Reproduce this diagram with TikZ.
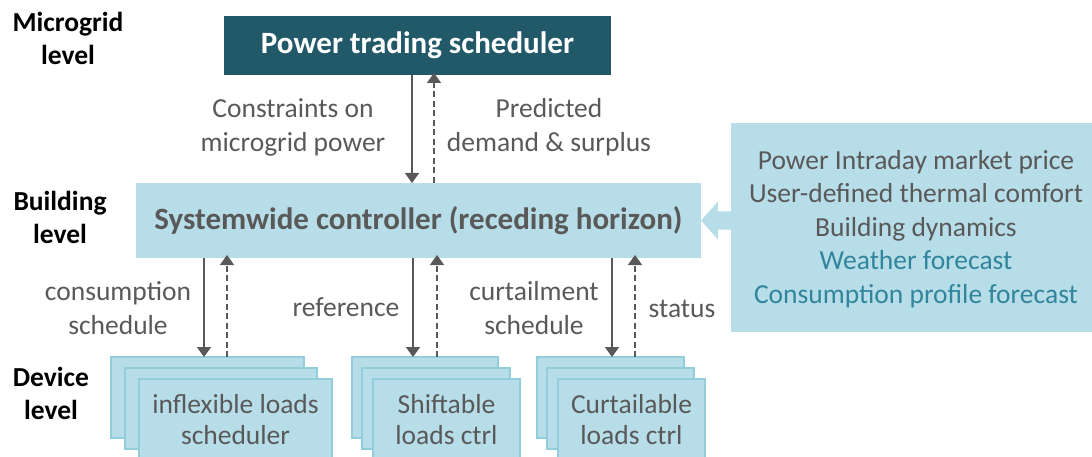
\documentclass[tikz,border=0pt]{standalone}
\usepackage{fontspec}
\setmainfont{Carlito}
\usetikzlibrary{arrows.meta}
\definecolor{darkteal}{HTML}{215968}
\definecolor{lightfill}{HTML}{B7DDE8}
\definecolor{lightborder}{HTML}{92CDDC}
\definecolor{txtgray}{HTML}{595959}
\definecolor{txtteal}{HTML}{31859C}
\begin{document}
\begin{tikzpicture}[x=1pt,y=-1pt,
  reg/.style={font=\fontsize{27.5}{34}\selectfont, text=txtgray, align=center, inner sep=0pt},
  lvl/.style={font=\bfseries\fontsize{27.5}{33}\selectfont, text=black, align=center, inner sep=0pt},
  box/.style={anchor=north west, inner sep=0pt, outer sep=0pt},
  dev/.style={box, fill=lightfill, draw=lightborder, line width=2.2pt},
  down/.style={draw=txtgray, line width=1.9pt, -{Triangle[width=14pt,length=10pt]}},
  up/.style={draw=txtgray, line width=1.7pt, dash pattern=on 6pt off 3.5pt, -{Triangle[width=14pt,length=10pt]}}
]
\useasboundingbox (0,0) rectangle (1092,457);

% level labels
\node[lvl] (lvlmg) at (68,38) {Microgrid\\level};
\node[lvl] (lvlbd) at (60,217) {Building\\level};
\node[lvl] (lvldv) at (51,393) {Device\\level};

% top box
\node[box, fill=darkteal, minimum width=387pt, minimum height=59pt,
  text=white, font=\bfseries\fontsize{31}{36}\selectfont] (top) at (224,16) {Power trading scheduler};

% systemwide box
\node[box, fill=lightfill, minimum width=565pt, minimum height=75pt,
  text=txtgray, font=\bfseries\fontsize{31}{36}\selectfont] (sys) at (136,183) {Systemwide controller (receding horizon)};

% info box
\node[box, fill=lightfill, minimum width=362pt, minimum height=209pt] (info) at (731,123) {};
\node[reg, font=\fontsize{27.5}{33.5}\selectfont] (infotxt) at (916,229) {Power Intraday market price\\User-defined thermal comfort\\Building dynamics\\\textcolor{txtteal}{Weather forecast}\\\textcolor{txtteal}{Consumption profile forecast}};

% big arrow
\fill[lightfill] (sys.east) -- ++(17,-19) -- ++(0,10) -- ++(14,0) -- ++(0,18) -- ++(-14,0) -- ++(0,10) -- cycle;

% device boxes group 1
\node[dev, minimum width=193pt, minimum height=81pt] (g1a) at (111,357) {};
\node[dev, minimum width=192pt, minimum height=81pt] (g1b) at (125,368) {};
\node[dev, minimum width=193pt, minimum height=81pt, text=txtgray, font=\fontsize{27.5}{31}\selectfont, align=center] (g1c) at (139,379) {inflexible loads\\scheduler};
% group 2
\node[dev, minimum width=146pt, minimum height=81pt] (g2a) at (352,357) {};
\node[dev, minimum width=148pt, minimum height=81pt] (g2b) at (362,368) {};
\node[dev, minimum width=147pt, minimum height=81pt, text=txtgray, font=\fontsize{27.5}{31}\selectfont, align=center] (g2c) at (373,379) {Shiftable\\loads ctrl};
% group 3
\node[dev, minimum width=147pt, minimum height=81pt] (g3a) at (537,357) {};
\node[dev, minimum width=147pt, minimum height=81pt] (g3b) at (547,368) {};
\node[dev, minimum width=147pt, minimum height=81pt, text=txtgray, font=\fontsize{27.5}{31}\selectfont, align=center] (g3c) at (558,379) {Curtailable\\loads ctrl};

% arrow x positions
\coordinate (x0s) at (412,0);
\coordinate (x0d) at (434,0);
\coordinate (x1s) at (204,0);
\coordinate (x1d) at (227,0);
\coordinate (x2s) at (413,0);
\coordinate (x2d) at (437,0);
\coordinate (x3s) at (612,0);
\coordinate (x3d) at (635,0);

\draw[down] (top.south -| x0s) -- (sys.north -| x0s);
\draw[up] (sys.north -| x0d) -- ([yshift=2pt]top.south -| x0d);
\draw[down] (sys.south -| x1s) -- (g1a.north -| x1s);
\draw[up] (g1a.north -| x1d) -- ([yshift=3pt]sys.south -| x1d);
\draw[down] (sys.south -| x2s) -- (g2a.north -| x2s);
\draw[up] (g2a.north -| x2d) -- ([yshift=3pt]sys.south -| x2d);
\draw[down] (sys.south -| x3s) -- (g3a.north -| x3s);
\draw[up] (g3a.north -| x3d) -- ([yshift=3pt]sys.south -| x3d);

% labels
\node[reg] (lconstr) at (293,127) {Constraints on\\microgrid power};
\node[reg] (lpred) at (549,127) {Predicted\\demand \& surplus};
\node[reg] (lcons) at (118,308) {consumption\\schedule};
\node[reg] (lref) at (346,307) {reference};
\node[reg] (lcurt) at (534,308) {curtailment\\schedule};
\node[reg] (lstat) at (682,309) {status};
\end{tikzpicture}
\end{document}
